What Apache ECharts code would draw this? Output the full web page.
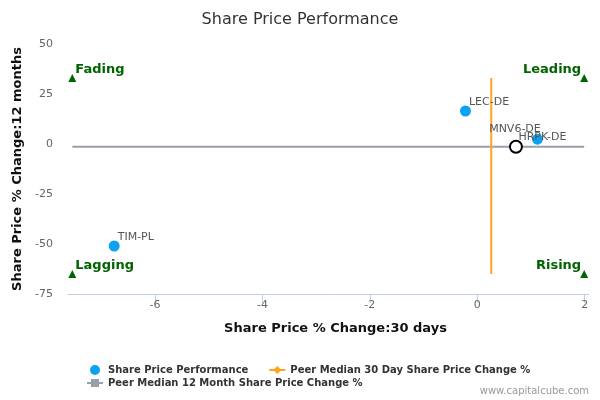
<!DOCTYPE html>
<html>
<head>
<meta charset="utf-8">
<script src="https://cdn.jsdelivr.net/npm/echarts@6/dist/echarts.min.js"></script>
<style>
  html, body { margin: 0; padding: 0; background: #fff; }
  #chart { width: 600px; height: 400px; }
</style>
</head>
<body>
<div id="chart"></div>
<script>
// companies and their % changes
const companies = ['LEC-DE', 'HRPK-DE', 'MNV6-DE', 'TIM-PL'];
const change30d = [-0.22, 1.12, 0.72, -6.76];
const change12m = [16.5, 2.4, -1.4, -51];
const subject = 'MNV6-DE';

// peer medians
const peerMedian30d = 0.26;
const peerMedian12m = -1.4;

// quadrant markers
const quadrants = ['Fading', 'Leading', 'Lagging', 'Rising'];
const quadrantX = [-7.54, 1.99, -7.54, 1.99];
const quadrantY = [33, 33, -65, -65];

const xTicks = [-6, -4, -2, 0, 2];
const xMin = -7.62, xMax = 2.08;
const yMin = -75, yMax = 50, yStep = 25;

const font = 'DejaVu Sans';

// label placement per company (overlap tweaks like the original)
const labelPos = {
    'LEC-DE': { position: [9, -3], align: 'left' },
    'TIM-PL': { position: [9, -3], align: 'left' },
    'HRPK-DE': { position: [10.5, 3.5], align: 'center' },
    'MNV6-DE': { position: [6, -10.5], align: 'center' }
};

const pointData = companies.map(function (name, i) {
    const lp = labelPos[name];
    const item = {
        name: name,
        value: [change30d[i], change12m[i]],
        label: { position: lp.position, align: lp.align, verticalAlign: 'middle' }
    };
    if (name === subject) {
        item.symbolSize = 12;
        item.itemStyle = { color: '#ffffff', borderColor: '#000000', borderWidth: 2, opacity: 1 };
        item.z = 5;
    }
    return item;
});

const quadrantData = quadrants.map(function (name, i) {
    const right = quadrantX[i] > 0;
    return {
        name: name,
        value: [quadrantX[i], quadrantY[i]],
        label: {
            position: right ? [1, -4] : [7, -4],
            align: right ? 'right' : 'left',
            verticalAlign: 'middle'
        }
    };
});

const myChart = echarts.init(document.getElementById('chart'));

const legendText = { fontFamily: font, fontSize: 10, fontWeight: 'bold', color: '#333333' };

const option = {
    animation: false,
    textStyle: { fontFamily: font },
    title: {
        text: 'Share Price Performance',
        left: 'center',
        top: 7,
        textStyle: { fontFamily: font, fontSize: 16, fontWeight: 'normal', color: '#333333' }
    },
    graphic: [{
        type: 'text',
        right: 11,
        top: 386,
        style: { text: 'www.capitalcube.com', fill: '#999999', font: '10px "DejaVu Sans"' }
    }],
    legend: [{
        left: 85,
        top: 360,
        itemWidth: 16,
        itemHeight: 10,
        itemGap: 20,
        textStyle: legendText,
        data: ['Share Price Performance', 'Peer Median 30 Day Share Price Change %']
    }, {
        left: 81,
        top: 373,
        itemWidth: 16,
        itemHeight: 10,
        textStyle: legendText,
        data: ['Peer Median 12 Month Share Price Change %']
    }],
    grid: { left: 68, right: 11, top: 44, bottom: 106 },
    xAxis: {
        type: 'value',
        min: xMin,
        max: xMax,
        name: 'Share Price % Change:30 days',
        nameLocation: 'middle',
        nameGap: 28,
        nameTextStyle: { fontFamily: font, fontSize: 13, fontWeight: 'bold', color: '#111111', padding: [0, 0, 0, 14] },
        splitLine: { show: false },
        axisLine: { onZero: false, lineStyle: { color: '#c0d0e0', width: 1 } },
        axisTick: { show: true, length: 9, customValues: xTicks, lineStyle: { color: '#c0d0e0' } },
        axisLabel: { customValues: xTicks, color: '#666666', fontSize: 11, margin: 6 }
    },
    yAxis: {
        type: 'value',
        min: yMin,
        max: yMax,
        interval: yStep,
        name: 'Share Price % Change:12 months',
        nameLocation: 'middle',
        nameGap: 36,
        nameTextStyle: { fontFamily: font, fontSize: 13, fontWeight: 'bold', color: '#111111' },
        splitLine: { show: false },
        axisLine: { show: false },
        axisTick: { show: false },
        axisLabel: { color: '#666666', fontSize: 11, margin: 15 }
    },
    series: [{
        name: 'Peer Median 12 Month Share Price Change %',
        type: 'line',
        symbol: 'rect',
        showSymbol: false,
        color: '#9aa0ab',
        lineStyle: { width: 2, color: '#9aa0ab' },
        data: [[quadrantX[0], peerMedian12m], [quadrantX[1], peerMedian12m]],
        z: 2
    }, {
        name: 'Peer Median 30 Day Share Price Change %',
        type: 'line',
        symbol: 'diamond',
        showSymbol: false,
        color: '#ffa41b',
        lineStyle: { width: 2, color: '#ffa41b' },
        data: [[peerMedian30d, quadrantY[2]], [peerMedian30d, quadrantY[0]]],
        z: 3
    }, {
        name: 'Share Price Performance',
        type: 'scatter',
        symbol: 'circle',
        symbolSize: 11,
        color: '#0ca2f2',
        itemStyle: { opacity: 1 },
        label: {
            show: true,
            formatter: '{b}',
            color: '#555555',
            fontSize: 11,
            fontFamily: font
        },
        data: pointData,
        z: 4
    }, {
        name: 'quadrants',
        type: 'scatter',
        symbol: 'triangle',
        symbolSize: 8,
        color: '#006400',
        itemStyle: { opacity: 1 },
        label: {
            show: true,
            formatter: '{b}',
            color: '#006400',
            fontSize: 13,
            fontWeight: 'bold',
            fontFamily: font
        },
        data: quadrantData,
        z: 4
    }]
};

myChart.setOption(option);
</script>
</body>
</html>
